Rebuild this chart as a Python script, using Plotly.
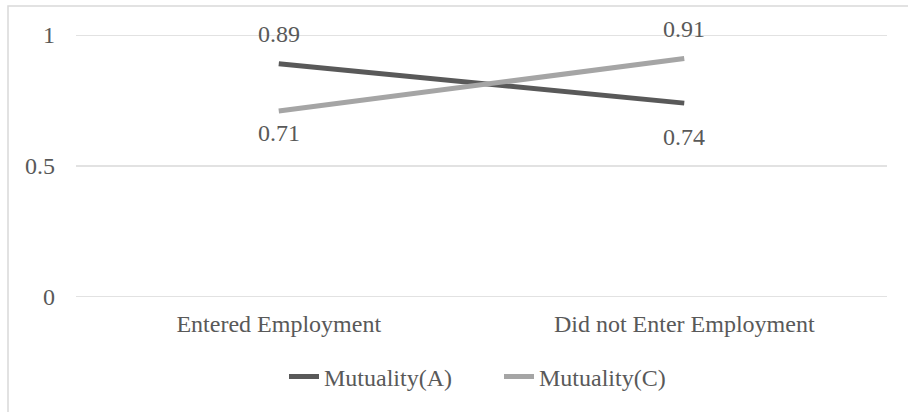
import plotly.graph_objects as go

categories = ["Entered Employment", "Did not Enter Employment"]
series_names = ["Mutuality(A)", "Mutuality(C)"]
mutuality_a = [0.89, 0.74]
mutuality_c = [0.71, 0.91]
y_ticks = [0, 0.5, 1]
y_tick_labels = ["0", "0.5", "1"]

colors = ["#595959", "#A5A5A5"]
label_shifts = [[30, -34], [-22, 30]]

W, H = 908, 412
ml, mr, mt, mb = 76, 21, 35, 115
pw, ph = W - ml - mr, H - mt - mb
FONT = "Liberation Serif, Times New Roman, serif"
TXT = "#595959"
FS = 24

fig = go.Figure()
annotations = []
for i, (name, vals) in enumerate(zip(series_names, [mutuality_a, mutuality_c])):
    fig.add_trace(go.Scatter(
        x=categories, y=vals, name=name, mode="lines",
        line=dict(color=colors[i], width=5), hoverinfo="skip"))
    for j, v in enumerate(vals):
        annotations.append(dict(
            x=categories[j], y=v, xref="x", yref="y", text=f"{v:.2f}",
            showarrow=False, yshift=label_shifts[i][j],
            font=dict(family=FONT, size=FS, color=TXT)))

shapes = []
# horizontal gridlines
for t in y_ticks:
    shapes.append(dict(type="line", xref="paper", yref="y", x0=0, x1=1,
                       y0=t, y1=t, layer="below",
                       line=dict(color="#D9D9D9", width=1.5)))
# outer chart border (only left/top visible in view)
shapes.append(dict(type="rect", xref="paper", yref="paper",
                   x0=(8 - ml) / pw, x1=(W + 5 - ml) / pw,
                   y0=-(mb + 5) / ph, y1=1 + (mt - 6) / ph,
                   line=dict(color="#D9D9D9", width=1.5),
                   fillcolor="rgba(0,0,0,0)"))

fig.update_layout(
    width=W, height=H,
    margin=dict(l=ml, r=mr, t=mt, b=mb),
    paper_bgcolor="white", plot_bgcolor="white",
    font=dict(family=FONT, size=FS, color=TXT),
    annotations=annotations,
    shapes=shapes,
    showlegend=True,
    legend=dict(orientation="h", x=(499 - ml) / pw, xanchor="center",
                y=-(mb - (H - 377)) / ph, yanchor="middle",
                font=dict(family=FONT, size=FS, color=TXT),
                bgcolor="rgba(0,0,0,0)", itemwidth=30, entrywidth=170),
    xaxis=dict(type="category", range=[-0.5, 1.5], showgrid=False,
               showline=False, zeroline=False, ticks="",
               ticklabelstandoff=10,
               tickfont=dict(family=FONT, size=FS, color=TXT)),
    yaxis=dict(range=[0, 1], tickvals=y_ticks, ticktext=y_tick_labels,
               showgrid=False, zeroline=False, showline=False, ticks="",
               ticklabelstandoff=20,
               tickfont=dict(family=FONT, size=FS, color=TXT)),
)
fig.write_html("out.html")
